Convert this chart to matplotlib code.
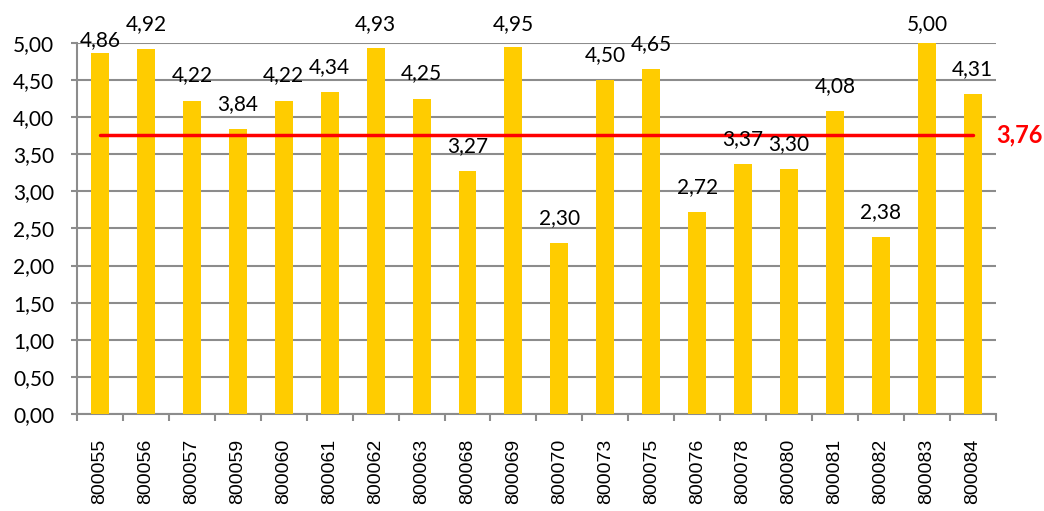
import matplotlib
matplotlib.use("Agg")
import matplotlib.pyplot as plt
import numpy as np

# === Data ===
codes = ["800055", "800056", "800057", "800059", "800060", "800061", "800062",
         "800063", "800068", "800069", "800070", "800073", "800075", "800076",
         "800078", "800080", "800081", "800082", "800083", "800084"]
scores = [4.86, 4.92, 4.22, 3.84, 4.22, 4.34, 4.93, 4.25, 3.27, 4.95,
          2.30, 4.50, 4.65, 2.72, 3.37, 3.30, 4.08, 2.38, 5.00, 4.31]
average = 3.76
y_ticks = [0, 0.5, 1, 1.5, 2, 2.5, 3, 3.5, 4, 4.5, 5]

BAR_COLOR = "#FFCC00"
GRID_COLOR = "#8C8C8C"


def fmt(v):
    return f"{v:.2f}".replace(".", ",")


# === Figure ===
fig = plt.figure(figsize=(10.44, 5.11), dpi=100)
ax = fig.add_axes([0.0738, 0.19, 0.880, 0.726])

x = np.arange(len(codes))
ax.bar(x, scores, width=0.39, color=BAR_COLOR, zorder=3)

# average line across the bars
ax.plot([x[0], x[-1]], [average, average], color="#FF0000", lw=2.5,
        zorder=4, solid_capstyle="round")
ax.text(1.0, average, fmt(average), transform=ax.get_yaxis_transform(),
        color="#FF0000", fontsize=17, fontweight="bold", family="Lato",
        va="center", ha="left")

# data labels above the bars (Excel pushes the top ones down a bit)
for xi, v in zip(x, scores):
    y_lab = min(v + 0.34, 5.26)
    if xi == 0:
        y_lab = 5.04
    ax.text(xi, y_lab, fmt(v), ha="center", va="center", fontsize=15,
            family="Lato", zorder=5, clip_on=False)

# === Axes styling ===
ax.set_xlim(-0.5, len(codes) - 0.5)
ax.set_ylim(0, 5)
ax.set_yticks(y_ticks)
ax.set_yticklabels([fmt(t) for t in y_ticks], fontsize=15, family="Lato")
ax.yaxis.grid(True, color=GRID_COLOR, lw=1.5, zorder=0)

ax.set_xticks(x)
ax.set_xticklabels(codes, rotation=90, fontsize=14, family="Liberation Sans")
ax.set_xticks(np.arange(-0.5, len(codes), 1), minor=True)
ax.tick_params(axis="x", which="major", length=0, pad=18)
ax.tick_params(axis="x", which="minor", length=5, width=1.5, color=GRID_COLOR)
ax.tick_params(axis="y", length=4.5, width=1.5, color=GRID_COLOR, pad=12)

for side in ["top", "right"]:
    ax.spines[side].set_visible(False)
for side in ["left", "bottom"]:
    ax.spines[side].set_color(GRID_COLOR)
    ax.spines[side].set_linewidth(1.5)

fig.savefig("out.png", dpi=100)
